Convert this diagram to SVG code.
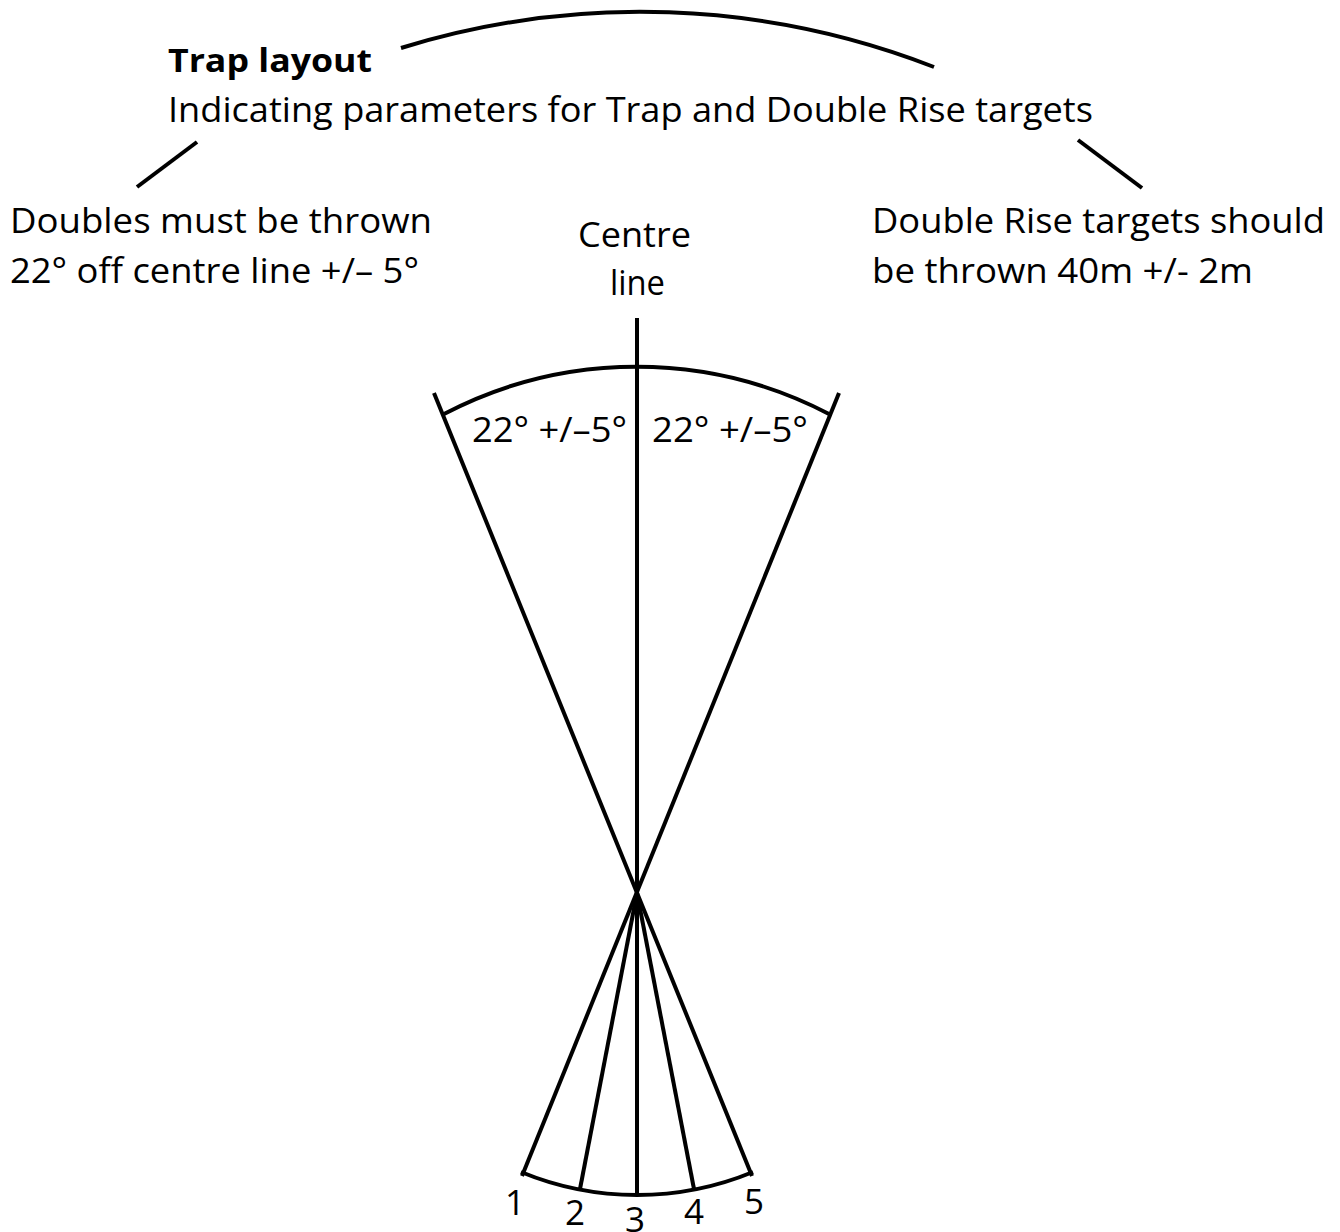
<svg xmlns="http://www.w3.org/2000/svg" width="1340" height="1232" viewBox="0 0 1340 1232">
<style>
.t{font-family:"Open Sans","Noto Sans","Liberation Sans",sans-serif;font-size:35px;fill:#000}
.b{font-weight:bold;font-size:33px}
.n{font-size:35px}
.ln{fill:none;stroke:#000;stroke-width:4;stroke-linecap:butt}
</style>
<rect width="1340" height="1232" fill="#fff"/>
<g id="title">
<text class="t b" x="168" y="72" textLength="204" lengthAdjust="spacingAndGlyphs">Trap layout</text>
<text class="t" x="168" y="122" textLength="925" lengthAdjust="spacingAndGlyphs">Indicating parameters for Trap and Double Rise targets</text>
</g>
<g id="left-note">
<text class="t" x="10" y="233" textLength="422" lengthAdjust="spacingAndGlyphs">Doubles must be thrown</text>
<text class="t" x="10" y="283" textLength="409" lengthAdjust="spacingAndGlyphs">22° off centre line +/– 5°</text>
</g>
<g id="centre-label">
<text class="t" x="578" y="247" textLength="113" lengthAdjust="spacingAndGlyphs">Centre</text>
<text class="t" x="610" y="295" textLength="55" lengthAdjust="spacingAndGlyphs">line</text>
</g>
<g id="right-note">
<text class="t" x="872" y="233" textLength="453" lengthAdjust="spacingAndGlyphs">Double Rise targets should</text>
<text class="t" x="872" y="283" textLength="381" lengthAdjust="spacingAndGlyphs">be thrown 40m +/- 2m</text>
</g>
<g id="angle-labels">
<text class="t" x="472" y="442" font-size="36" textLength="155" lengthAdjust="spacingAndGlyphs">22° +/–5°</text>
<text class="t" x="652" y="442" font-size="36" textLength="156" lengthAdjust="spacingAndGlyphs">22° +/–5°</text>
</g>
<g id="positions">
<text class="t n" x="505" y="1215">1</text>
<text class="t n" x="565" y="1225">2</text>
<text class="t n" x="625" y="1232">3</text>
<text class="t n" x="684" y="1224">4</text>
<text class="t n" x="744" y="1214">5</text>
</g>
<g id="connectors">
<path class="ln" d="M401,48 A810,810 0 0 1 934,67"/>
<path class="ln" d="M137,187 L197,142"/>
<path class="ln" d="M1078,140 L1142,188"/>
<line class="ln" x1="637" y1="318" x2="637" y2="1194"/>
<line class="ln" x1="434" y1="393" x2="752" y2="1176"/>
<line class="ln" x1="839" y1="393" x2="522" y2="1176"/>
<line class="ln" x1="637" y1="893" x2="580" y2="1189"/>
<line class="ln" x1="637" y1="893" x2="694" y2="1189"/>
<path class="ln" d="M444,414 A416,416 0 0 1 829,414"/>
<path class="ln" d="M521,1172 A304,304 0 0 0 753,1172"/>
</g>
</svg>
